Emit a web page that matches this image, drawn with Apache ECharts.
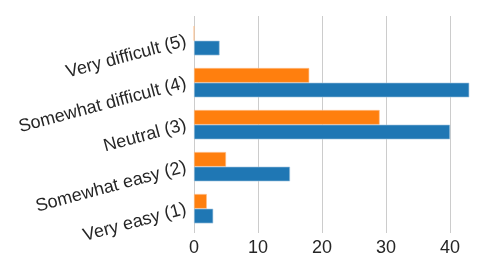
<!DOCTYPE html>
<html>
<head>
<meta charset="utf-8">
<script src="https://cdn.jsdelivr.net/npm/echarts@6/dist/echarts.min.js"></script>
<style>
html,body{margin:0;padding:0;background:#fff;}
#chart{width:499px;height:272px;}
</style>
</head>
<body>
<div id="chart"></div>
<script>
// Categories listed bottom to top
var categories = ['Very easy (1)', 'Somewhat easy (2)', 'Neutral (3)', 'Somewhat difficult (4)', 'Very difficult (5)'];
var blueValues = [3, 15, 40, 43, 4];
var orangeValues = [2, 5, 29, 18, 0];
var xTicks = [0, 10, 20, 30, 40];
var xMax = 45.15;

var FONT = '"Liberation Sans", Arial, sans-serif';
var TEXT = '#262626';
var FS = 18;

var chart = echarts.init(document.getElementById('chart'), null, {renderer: 'canvas'});
chart.setOption({
  animation: false,
  backgroundColor: '#ffffff',
  grid: [
    {left: 194, right: 16, top: 19.7, bottom: 42.3, containLabel: false},
    {left: 194, right: 16, top: 16, bottom: 39, containLabel: false}
  ],
  xAxis: [
    {
      gridIndex: 0, type: 'value', min: 0, max: xMax, interval: 10,
      show: false
    },
    {
      gridIndex: 1, type: 'value', min: 0, max: xMax, interval: 10,
      axisLine: {show: false}, axisTick: {show: false},
      splitLine: {show: true, showMinLine: true, showMaxLine: false, lineStyle: {color: '#cccccc', width: 1}},
      axisLabel: {
        margin: 6, fontSize: FS, color: TEXT, fontFamily: FONT,
        showMaxLabel: false,
        formatter: function (v) { return xTicks.indexOf(v) >= 0 ? String(v) : ''; }
      }
    }
  ],
  yAxis: [
    {
      gridIndex: 0, type: 'category', data: categories,
      axisLine: {show: false}, axisTick: {show: false}, splitLine: {show: false},
      axisLabel: {rotate: 15, margin: 8, fontSize: FS, color: TEXT, fontFamily: FONT}
    },
    {
      gridIndex: 1, type: 'value', min: 0, max: 1, show: false
    }
  ],
  series: [
    {
      name: 'Group A', type: 'bar', xAxisIndex: 0, yAxisIndex: 0,
      data: orangeValues, barWidth: 14.67, barGap: '0%',
      itemStyle: {color: '#ff7f0e', borderColor: '#ffc08a', borderWidth: 0.6}
    },
    {
      name: 'Group B', type: 'bar', xAxisIndex: 0, yAxisIndex: 0,
      data: blueValues, barWidth: 14.67, barGap: '0%',
      itemStyle: {color: '#1f77b4', borderColor: '#a6c8e0', borderWidth: 0.6}
    }
  ]
});
</script>
</body>
</html>
